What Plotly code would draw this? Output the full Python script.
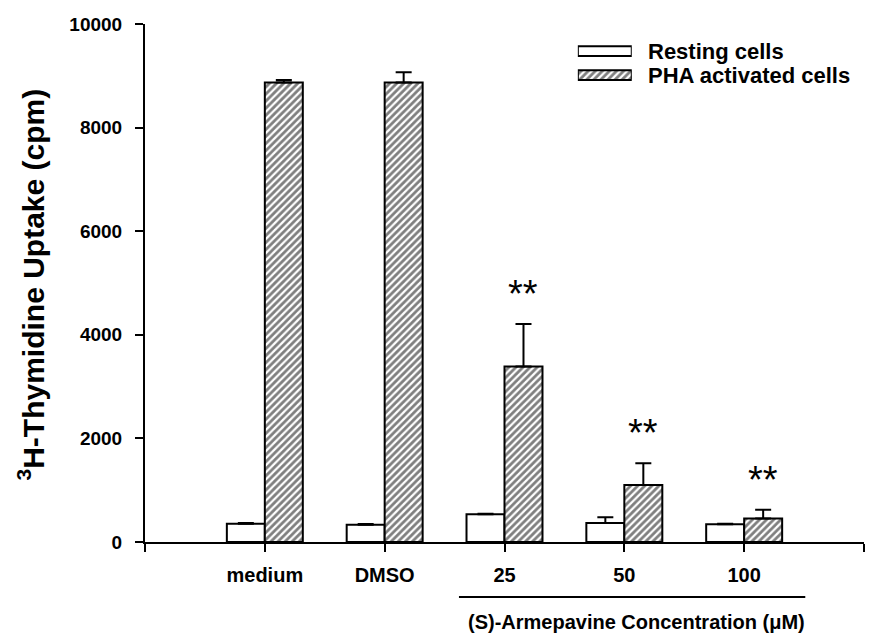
import plotly.graph_objects as go

# Data: 3H-thymidine uptake (cpm), mean and upper SD
groups = ["medium", "DMSO", "25", "50", "100"]
resting_mean = [354, 334, 534, 365, 341]
resting_err = [15, 15, 12, 115, 10]
pha_mean = [8870, 8870, 3390, 1100, 452]
pha_err = [50, 200, 820, 420, 170]
significance = ["", "", "**", "**", "**"]

legend_labels = ["Resting cells", "PHA activated cells"]

FONT = "Arial, Liberation Sans, Helvetica, sans-serif"
BAR_W = 0.317  # width of one bar in category units

xpos = list(range(1, len(groups) + 1))

hatch = dict(shape="/", fgcolor="black", bgcolor="white", size=5, solidity=0.55)

fig = go.Figure()

fig.add_trace(go.Bar(
    x=xpos, y=resting_mean, width=BAR_W, offset=-BAR_W,
    marker=dict(color="white", line=dict(color="black", width=2)),
    error_y=dict(type="data", symmetric=False, array=resting_err,
                 arrayminus=[0] * len(groups), color="black",
                 thickness=2, width=8),
    showlegend=False,
))

fig.add_trace(go.Bar(
    x=xpos, y=pha_mean, width=BAR_W, offset=0,
    marker=dict(color="white", line=dict(color="black", width=2), pattern=hatch),
    error_y=dict(type="data", symmetric=False, array=pha_err,
                 arrayminus=[0] * len(groups), color="black",
                 thickness=2, width=8),
    showlegend=False,
))

# Legend swatches drawn as horizontal bars on a small auxiliary axis pair
fig.add_trace(go.Bar(
    x=[1], y=[1], orientation="h", width=0.4, xaxis="x2", yaxis="y2",
    marker=dict(color="white", line=dict(color="black", width=2)),
    showlegend=False, hoverinfo="skip",
))
fig.add_trace(go.Bar(
    x=[1], y=[0], orientation="h", width=0.4, xaxis="x2", yaxis="y2",
    marker=dict(color="white", line=dict(color="black", width=2), pattern=hatch),
    showlegend=False, hoverinfo="skip",
))

annotations = []

# significance stars above the activated-cell bars
for i, s in enumerate(significance):
    if s:
        annotations.append(dict(
            x=xpos[i] + BAR_W / 2, y=pha_mean[i] + pha_err[i],
            xref="x", yref="y", text=s, showarrow=False,
            xanchor="center", yanchor="middle", yshift=30,
            font=dict(family=FONT, size=38, color="black"),
        ))

# legend texts
for label, yv in zip(legend_labels, [1, 0]):
    annotations.append(dict(
        x=1.27, y=yv, xref="x2 domain", yref="y2", text=f"<b>{label}</b>",
        showarrow=False, xanchor="left", yanchor="middle",
        font=dict(family=FONT, size=22, color="black"),
    ))

# y-axis title
annotations.append(dict(
    x=-0.1586, y=0.497, xref="paper", yref="paper",
    text="<b><sup>3</sup>H-Thymidine Uptake (cpm)</b>", textangle=-90,
    showarrow=False, xanchor="center", yanchor="middle",
    font=dict(family=FONT, size=30, color="black"),
))

# concentration caption below the bracket line
annotations.append(dict(
    x=4.1, y=-0.154, xref="x", yref="paper",
    text="<b>(S)-Armepavine Concentration (μM)</b>",
    showarrow=False, xanchor="center", yanchor="middle",
    font=dict(family=FONT, size=20, color="black"),
))

shapes = [dict(
    type="line", xref="x", yref="paper",
    x0=3 - 0.38, x1=5 + 0.51, y0=-0.106, y1=-0.106,
    line=dict(color="black", width=2),
)]

fig.update_layout(
    width=875, height=635,
    margin=dict(l=145, r=11, t=24, b=93),
    plot_bgcolor="white", paper_bgcolor="white",
    barmode="overlay",
    font=dict(family=FONT, color="black"),
    xaxis=dict(
        range=[0, 6], tickmode="array", tickvals=xpos,
        ticktext=[f"<b>{g}</b>" for g in groups],
        showline=True, linecolor="black", linewidth=2,
        ticks="outside", ticklen=8, tickwidth=2, tickcolor="black",
        minor=dict(tickmode="array", tickvals=[0, len(groups) + 1],
                   ticks="outside", ticklen=8, tickwidth=2,
                   tickcolor="black", showgrid=False),
        showgrid=False, zeroline=False,
        tickfont=dict(family=FONT, size=20, color="black"),
        ticklabelstandoff=6,
    ),
    yaxis=dict(
        range=[0, 10000], tickmode="array",
        tickvals=[0, 2000, 4000, 6000, 8000, 10000],
        ticktext=["<b>0</b>", "<b>2000</b>", "<b>4000</b>", "<b>6000</b>",
                  "<b>8000</b>", "<b>10000</b>"],
        showline=True, linecolor="black", linewidth=2,
        ticks="outside", ticklen=8, tickwidth=2, tickcolor="black",
        showgrid=False, zeroline=False,
        tickfont=dict(family=FONT, size=19, color="black"),
        ticklabelstandoff=9,
    ),
    xaxis2=dict(domain=[0.602, 0.677], range=[0, 1], anchor="y2",
                visible=False, fixedrange=True),
    yaxis2=dict(domain=[0.878, 0.971], range=[-0.5, 1.5], anchor="x2",
                visible=False, fixedrange=True),
    annotations=annotations,
    shapes=shapes,
)

fig.write_html("out.html")
